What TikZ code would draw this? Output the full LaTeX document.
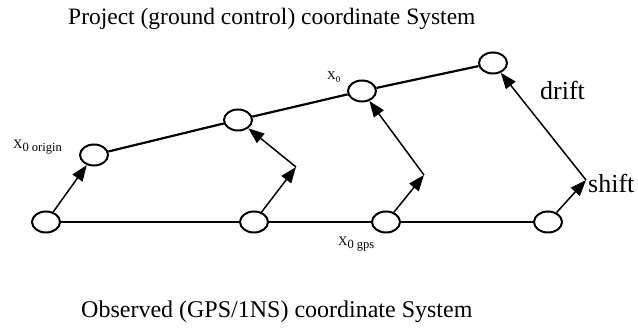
\documentclass[tikz,border=0pt]{standalone}
\usepackage{fontspec}
\setmainfont{Liberation Serif}
\usetikzlibrary{arrows.meta,shapes.geometric}
\newcommand{\subtxt}[1]{\raisebox{-0.18em}{\fontsize{12.5}{13}\selectfont #1}}
\begin{document}
\begin{tikzpicture}[x=1pt,y=-1pt,
  station/.style={draw, ellipse, line width=2pt, minimum width=28pt, minimum height=21pt, inner sep=0pt},
  link/.style={line width=2.2pt},
  move/.style={line width=1.5pt, -{Triangle[length=16pt,width=12pt]}},
  lbl/.style={inner sep=0pt, anchor=base west}]
\useasboundingbox (0,0) rectangle (638,328);
% titles
\node[lbl, font=\fontsize{23.5}{28}\selectfont] (top) at (68,25) {Project (ground control) coordinate System};
\node[lbl, font=\fontsize{24}{28}\selectfont] (bot) at (81,318) {Observed (GPS/1NS) coordinate System};
% stations
\node[station] (B1) at (46,222) {};
\node[station] (B2) at (254,222) {};
\node[station] (B3) at (386,222) {};
\node[station] (B4) at (548,222) {};
\node[station] (T1) at (94,155) {};
\node[station] (T2) at (238,120) {};
\node[station] (T3) at (362,91) {};
\node[station] (T4) at (493,63) {};
% links
\draw[link] (B1) -- (B2);
\draw[link] (B2) -- (B3);
\draw[link] (B3) -- (B4);
\draw[link] (T1) -- (T2);
\draw[link] (T2) -- (T3);
\draw[link] (T3) -- (T4);
% movements
\coordinate (P2) at (296,167);
\coordinate (P3) at (424,175);
\coordinate (P4) at (586,180);
\draw[move] (B1) -- (T1);
\draw[move] (B2) -- (P2);
\draw[move] (P2) -- (T2);
\draw[move] (B3) -- (P3);
\draw[move] (P3) -- (T3);
\draw[move] (B4) -- (P4);
\draw[move] (P4) -- (T4);
% labels
\node[lbl, font=\fontsize{13}{14}\selectfont] (lorig) at (13,149) {X\subtxt{0 origin}};
\node[lbl, font=\fontsize{12}{13}\selectfont] (lx0) at (327,80) {X\raisebox{-0.2em}{\fontsize{9}{9}\selectfont 0}};
\node[lbl, font=\fontsize{13}{14}\selectfont] (lgps) at (338,246) {X\subtxt{0 gps}};
\node[lbl, font=\fontsize{26}{28}\selectfont] (ldrift) at (540,100) {drift};
\node[lbl, font=\fontsize{26}{28}\selectfont] (lshift) at (588,193) {shift};
\end{tikzpicture}
\end{document}
